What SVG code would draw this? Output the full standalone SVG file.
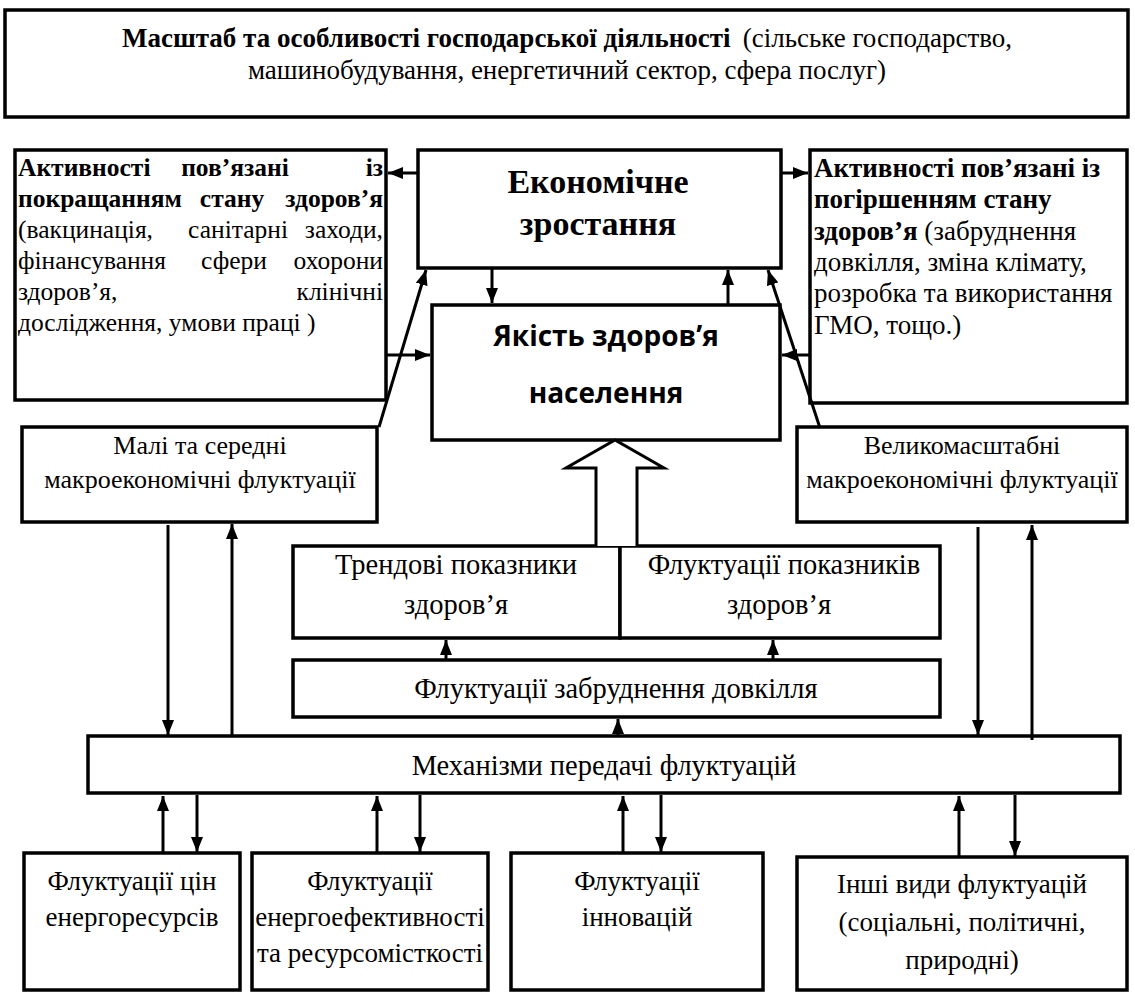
<svg xmlns="http://www.w3.org/2000/svg" width="1135" height="998" viewBox="0 0 1135 998">
<style>
.box{fill:#fff;stroke:#000;stroke-width:3.5}
.t{font-family:"Liberation Serif","Times New Roman",serif;fill:#000}
.b{font-weight:bold}
.c{text-anchor:middle}
.e{text-anchor:end}
.f25{font-size:25.5px}
.f26{font-size:26px}
.f27{font-size:27px}
.f28{font-size:28.5px}
.f34{font-size:34px}
.s{font-family:"Open Sans","Liberation Sans",sans-serif;font-weight:bold;font-size:28px;text-anchor:middle}
.ar{stroke:#000;stroke-width:3;fill:none;marker-end:url(#ah)}
</style>
<defs>
<marker id="ah" viewBox="0 0 15 12" markerUnits="userSpaceOnUse" markerWidth="15" markerHeight="12" refX="15" refY="6" orient="auto">
<path d="M0,0 L15,6 L0,12 z" fill="#000"/>
</marker>
</defs>
<rect width="1135" height="998" fill="#fff"/>

<g id="top">
<rect class="box" x="5" y="10" width="1123" height="107"/>
<text class="t f27 b" x="122" y="47">Масштаб та особливості господарської діяльності</text>
<text class="t f27 e" x="1012" y="47">(сільське господарство,</text>
<text class="t f27 c" x="567" y="79">машинобудування, енергетичний сектор, сфера послуг)</text>
</g>

<g id="left-activities">
<rect class="box" x="15" y="150" width="371" height="250"/>
<text class="t f25 b" x="18" y="176">Активності</text>
<text class="t f25 b c" x="235" y="176">пов’язані</text>
<text class="t f25 b e" x="383" y="176">із</text>
<text class="t f25 b" x="18" y="207">покращанням</text>
<text class="t f25 b c" x="232" y="207">стану</text>
<text class="t f25 b e" x="383" y="207">здоров’я</text>
<text class="t f25" x="18" y="238">(вакцинація,</text>
<text class="t f25 c" x="238" y="238">санітарні</text>
<text class="t f25 e" x="383" y="238">заходи,</text>
<text class="t f25" x="18" y="269">фінансування</text>
<text class="t f25 c" x="234" y="269">сфери</text>
<text class="t f25 e" x="383" y="269">охорони</text>
<text class="t f25" x="18" y="300">здоров’я,</text>
<text class="t f25 e" x="383" y="300">клінічні</text>
<text class="t f25" x="18" y="331">дослідження, умови праці )</text>
</g>

<g id="econ">
<rect class="box" x="418" y="150" width="363" height="118"/>
<text class="t f34 b c" x="598" y="193">Економічне</text>
<text class="t f34 b c" x="598" y="235">зростання</text>
</g>

<g id="right-activities">
<rect class="box" x="810" y="150" width="317" height="253"/>
<text class="t f27 b" x="814" y="177">Активності пов’язані із</text>
<text class="t f27 b" x="814" y="208">погіршенням стану</text>
<text class="t f27" x="814" y="240"><tspan class="b">здоров’я</tspan> (забруднення</text>
<text class="t f27" x="814" y="271">довкілля, зміна клімату,</text>
<text class="t f27" x="814" y="302">розробка та використання</text>
<text class="t f27" x="814" y="334">ГМО, тощо.)</text>
</g>

<g id="quality">
<rect class="box" x="432" y="305" width="348" height="135"/>
<text class="s" x="606" y="346">Якість здоров’я</text>
<text class="s" x="606" y="403">населення</text>
</g>

<g id="small-macro">
<rect class="box" x="22" y="427" width="355" height="95"/>
<text class="t f26 c" x="200" y="454">Малі та середні</text>
<text class="t f26 c" x="200" y="488">макроекономічні флуктуації</text>
</g>

<g id="large-macro">
<rect class="box" x="797" y="427" width="330" height="95"/>
<text class="t f26 c" x="962" y="454">Великомасштабні</text>
<text class="t f26 c" x="962" y="488">макроекономічні флуктуації</text>
</g>

<g id="trend">
<rect class="box" x="293" y="546" width="327" height="92"/>
<text class="t f28 c" x="456" y="574">Трендові показники</text>
<text class="t f28 c" x="456" y="614">здоров’я</text>
</g>

<g id="health-fluct">
<rect class="box" x="620" y="546" width="320" height="92"/>
<text class="t f28 c" x="784" y="574">Флуктуації показників</text>
<text class="t f28 c" x="779" y="614">здоров’я</text>
</g>

<g id="env-fluct">
<rect class="box" x="293" y="660" width="647" height="57"/>
<text class="t f28 c" x="616" y="698">Флуктуації забруднення довкілля</text>
</g>

<g id="mechanisms">
<rect class="box" x="88" y="736" width="1032" height="57"/>
<text class="t f28 c" x="604" y="775">Механізми передачі флуктуацій</text>
</g>

<g id="energy-prices">
<rect class="box" x="24" y="853" width="216" height="137"/>
<text class="t f27 c" x="132" y="890">Флуктуації цін</text>
<text class="t f27 c" x="132" y="926">енергоресурсів</text>
</g>

<g id="energy-eff">
<rect class="box" x="252" y="853" width="236" height="137"/>
<text class="t f27 c" x="370" y="890">Флуктуації</text>
<text class="t f27 c" x="370" y="926">енергоефективності</text>
<text class="t f27 c" x="370" y="962">та ресурсомісткості</text>
</g>

<g id="innovation">
<rect class="box" x="511" y="853" width="252" height="137"/>
<text class="t f27 c" x="637" y="890">Флуктуації</text>
<text class="t f27 c" x="637" y="926">інновацій</text>
</g>

<g id="other">
<rect class="box" x="797" y="857" width="330" height="133"/>
<text class="t f27 c" x="962" y="893">Інші види флуктуацій</text>
<text class="t f27 c" x="962" y="931">(соціальні, політичні,</text>
<text class="t f27 c" x="962" y="969">природні)</text>
</g>

<g id="connectors">
<line class="ar" x1="418" y1="173" x2="388" y2="173"/>
<line class="ar" x1="781" y1="173" x2="808" y2="173"/>
<line class="ar" x1="492" y1="268" x2="492" y2="303"/>
<line class="ar" x1="728" y1="305" x2="728" y2="270"/>
<line class="ar" x1="386" y1="355" x2="430" y2="355"/>
<line class="ar" x1="810" y1="355" x2="782" y2="355"/>
<line class="ar" x1="379" y1="427" x2="426" y2="270"/>
<line class="ar" x1="820" y1="428" x2="768" y2="270"/>
<path d="M596,546 L596,468 L566,468 L615,440 L664,468 L637,468 L637,546" fill="#fff" stroke="#000" stroke-width="3"/>
<line class="ar" x1="168" y1="525" x2="168" y2="735"/>
<line class="ar" x1="232" y1="736" x2="232" y2="524"/>
<line class="ar" x1="978" y1="527" x2="978" y2="735"/>
<line class="ar" x1="1032" y1="740" x2="1032" y2="525"/>
<line class="ar" x1="446" y1="660" x2="446" y2="640"/>
<line class="ar" x1="773" y1="660" x2="773" y2="640"/>
<line class="ar" x1="618" y1="736" x2="618" y2="719"/>
<line class="ar" x1="163" y1="853" x2="163" y2="796"/>
<line class="ar" x1="197" y1="795" x2="197" y2="852"/>
<line class="ar" x1="377" y1="853" x2="377" y2="796"/>
<line class="ar" x1="420" y1="795" x2="420" y2="852"/>
<line class="ar" x1="623" y1="853" x2="623" y2="796"/>
<line class="ar" x1="661" y1="795" x2="661" y2="852"/>
<line class="ar" x1="959" y1="857" x2="959" y2="796"/>
<line class="ar" x1="1015" y1="795" x2="1015" y2="856"/>
</g>
</svg>
